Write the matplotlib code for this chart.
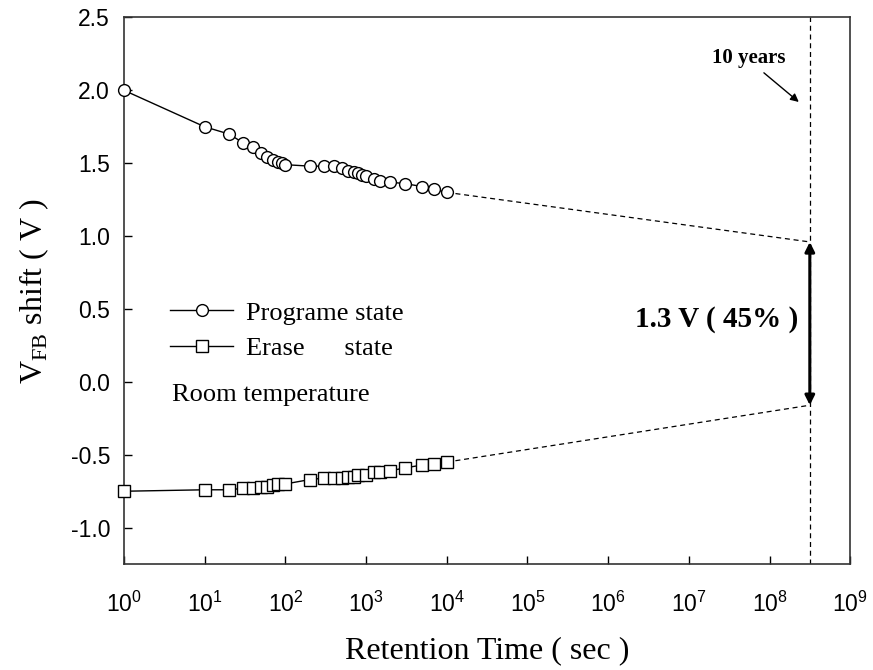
import numpy as np
import matplotlib
matplotlib.use("Agg")
import matplotlib.pyplot as plt

plt.rcParams["font.family"] = ["Liberation Sans", "DejaVu Sans"]
SERIF = ["Liberation Serif", "DejaVu Serif"]

# measured retention data (time in s, flat-band shift in V)
t_prog = [1, 10, 20, 30, 40, 50, 60, 70, 80, 90, 100, 200, 300, 400, 500, 600,
          700, 800, 900, 1000, 1250, 1500, 2000, 3000, 5000, 7000, 10000]
v_prog = [2.00, 1.75, 1.70, 1.64, 1.61, 1.57, 1.54, 1.52, 1.51, 1.50, 1.49, 1.48,
          1.48, 1.48, 1.47, 1.45, 1.44, 1.43, 1.42, 1.41, 1.39, 1.38, 1.37, 1.36,
          1.34, 1.32, 1.30]
t_erase = [1, 10, 20, 30, 40, 50, 60, 70, 80, 100, 200, 300, 400, 500, 600, 700,
           800, 1000, 1250, 1500, 2000, 3000, 5000, 7000, 10000]
v_erase = [-0.75, -0.74, -0.74, -0.73, -0.73, -0.72, -0.72, -0.71, -0.70, -0.70,
           -0.67, -0.66, -0.66, -0.66, -0.65, -0.65, -0.64, -0.64, -0.62, -0.62,
           -0.61, -0.59, -0.57, -0.56, -0.55]

# ten-year extrapolation
t_10y = 3.15e8
v_prog_10y = 0.96
v_erase_10y = -0.16

fig = plt.figure(figsize=(8.73, 6.7), dpi=100)
ax = fig.add_axes([0.142, 0.158, 0.832, 0.816])

mk = dict(color="black", lw=1.0, mfc="white", mec="black", mew=1.0, ms=8.5, clip_on=False, zorder=3)
ax.plot(t_prog, v_prog, marker="o", label="Programe state", **mk)
ax.plot(t_erase, v_erase, marker="s", label="Erase      state", **mk)

dash = dict(color="black", lw=0.9, ls=(0, (4, 3)))
ax.plot([t_prog[-1], t_10y], [v_prog[-1], v_prog_10y], **dash)
ax.plot([t_erase[-1], t_10y], [v_erase[-1], v_erase_10y], **dash)
ax.axvline(t_10y, **dash)

ax.annotate("", xy=(t_10y, v_prog_10y), xytext=(t_10y, v_erase_10y),
            arrowprops=dict(arrowstyle="<|-|>", color="black", lw=2.2,
                            mutation_scale=14, shrinkA=0, shrinkB=0))
ax.text(2.2e7, 0.43, "1.3 V ( 45% )", family=SERIF, fontsize=21, fontweight="bold",
        ha="center", va="center")

ax.annotate("", xy=(2.3e8, 1.92), xytext=(8.5e7, 2.12),
            arrowprops=dict(arrowstyle="-|>", color="black", lw=1.0,
                            mutation_scale=12, shrinkA=0, shrinkB=0))
ax.text(5.5e7, 2.22, "10 years", family=SERIF, fontsize=15, fontweight="bold",
        ha="center", va="center")

ax.set_xscale("log")
ax.set_xlim(1, 1e9)
ax.set_ylim(-1.25, 2.5)
ax.set_xticks([10.0 ** k for k in range(10)])
ax.set_yticks(np.arange(-1.0, 2.51, 0.5))
ax.yaxis.set_major_formatter(matplotlib.ticker.FormatStrFormatter("%.1f"))
ax.minorticks_off()
ax.tick_params(direction="in", length=6, width=1, labelsize=16.5)
ax.tick_params(axis="x", pad=20)
ax.tick_params(axis="y", pad=10)
for s in ax.spines.values():
    s.set_linewidth(1.2)
    s.set_color("#333333")

ax.set_xlabel("Retention Time ( sec )", family=SERIF, fontsize=23, labelpad=14)
ax.set_ylabel(r"V$_{\mathdefault{FB}}$ shift ( V )", family=SERIF, fontsize=23, labelpad=14)

leg = ax.legend(loc="upper left", bbox_to_anchor=(0.045, 0.505), frameon=False,
                prop=dict(family=SERIF, size=19), handlelength=2.4, handletextpad=0.5,
                labelspacing=0.45, borderpad=0)
ax.text(0.066, 0.31, "Room temperature", transform=ax.transAxes, family=SERIF,
        fontsize=19, ha="left", va="center")

fig.savefig("out.png", dpi=100)
